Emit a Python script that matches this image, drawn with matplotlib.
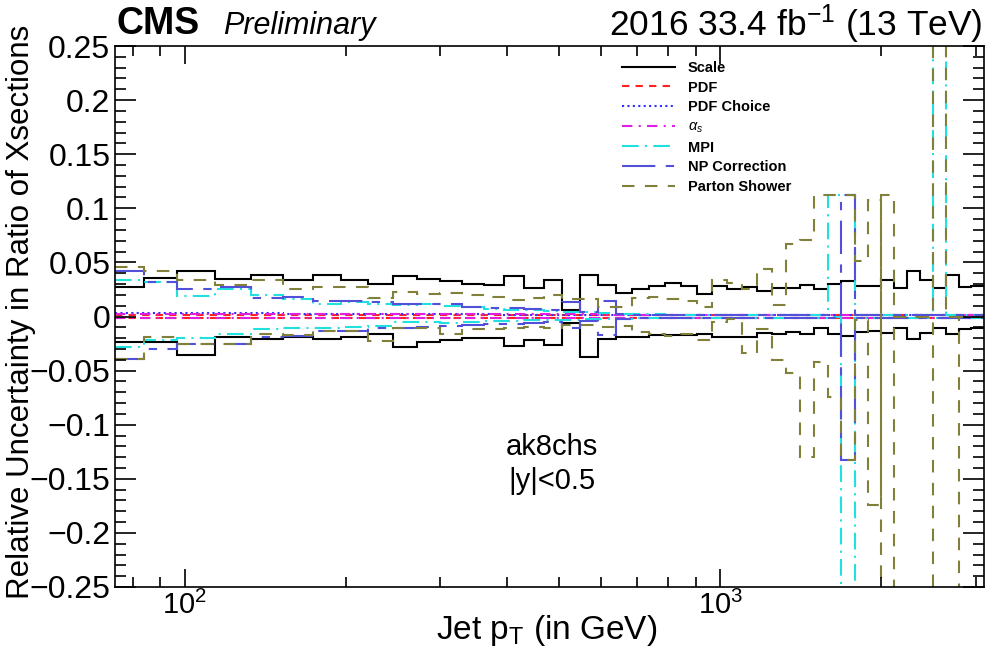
import matplotlib
matplotlib.use("Agg")
import matplotlib.pyplot as plt
from matplotlib.lines import Line2D
from matplotlib.ticker import FixedLocator, FixedFormatter, NullFormatter, MultipleLocator

plt.rcParams['font.family'] = ['Liberation Sans', 'DejaVu Sans']
plt.rcParams['mathtext.fontset'] = 'custom'
plt.rcParams['mathtext.rm'] = 'Liberation Sans'
plt.rcParams['mathtext.it'] = 'Liberation Sans:italic'
plt.rcParams['mathtext.bf'] = 'Liberation Sans:bold'

# ---------------- data ----------------
pt_edges = [74, 84, 97, 114, 133, 153, 174, 196, 220, 245, 272, 300, 330, 362, 395,
            430, 468, 507, 548, 592, 638, 686, 737, 790, 846, 905, 967, 1032, 1101,
            1172, 1248, 1327, 1410, 1497, 1588, 1684, 1784, 1890, 2000, 2116, 2238,
            2366, 2500, 2640, 2787, 2941, 3103]

scale_up = [0.027, 0.036, 0.042, 0.035, 0.038, 0.034, 0.038, 0.034, 0.030, 0.037,
            0.035, 0.033, 0.030, 0.029, 0.037, 0.026, 0.034, 0.006, 0.038, 0.029,
            0.022, 0.025, 0.028, 0.031, 0.028, 0.021, 0.028, 0.025, 0.027, 0.024,
            0.026, 0.026, 0.029, 0.025, 0.030, 0.033, 0.028, 0.028, 0.034, 0.026,
            0.042, 0.034, 0.026, 0.038, 0.027, 0.028]
scale_dn = [-0.024, -0.024, -0.036, -0.019, -0.021, -0.019, -0.021, -0.019, -0.016, -0.028,
            -0.024, -0.022, -0.020, -0.020, -0.027, -0.022, -0.026, -0.006, -0.037, -0.021,
            -0.019, -0.019, -0.017, -0.017, -0.017, -0.016, -0.019, -0.019, -0.019, -0.015,
            -0.016, -0.014, -0.016, -0.011, -0.016, -0.018, -0.014, -0.013, -0.015, -0.011,
            -0.021, -0.015, -0.011, -0.016, -0.012, -0.011]

pdf_up = [0.001, 0.001, 0.001, 0.001, 0.001, 0.001, 0.001, 0.001, 0.001, 0.001,
          0.001, 0.001, 0.001, 0.001, 0.001, 0.001, 0.001, 0.001, 0.001, 0.001,
          0.001, 0.001, 0.001, 0.001, 0.001, 0.001, 0.001, 0.001, 0.001, 0.001,
          0.001, 0.001, 0.001, 0.001, 0.001, 0.001, 0.001, 0.001, 0.001, 0.001,
          0.001, 0.001, 0.001, 0.001, 0.001, 0.001]
pdf_dn = [-0.001, -0.001, -0.001, -0.001, -0.001, -0.001, -0.001, -0.001, -0.001, -0.001,
          -0.001, -0.001, -0.001, -0.001, -0.001, -0.001, -0.001, -0.001, -0.001, -0.001,
          -0.001, -0.001, -0.001, -0.001, -0.001, -0.001, -0.001, -0.001, -0.001, -0.001,
          -0.001, -0.001, -0.001, -0.001, -0.001, -0.001, -0.001, -0.001, -0.001, -0.001,
          -0.001, -0.001, -0.001, -0.001, -0.001, -0.001]

pdfchoice = [0.003, 0.003, 0.003, 0.003, 0.003, 0.002, 0.002, 0.002, 0.002, 0.002,
             0.002, 0.002, 0.002, 0.002, 0.001, 0.001, 0.001, 0.001, 0.001, 0.001,
             0.001, 0.001, 0.001, 0.001, 0.001, 0.001, 0.001, 0.001, 0.001, 0.001,
             0.001, 0.001, 0.001, 0.001, 0.001, 0.001, 0.001, 0.001, 0.001, 0.001,
             0.001, 0.001, 0.001, 0.001, 0.001, 0.001]

alphas_up = [0.002, 0.002, 0.002, 0.002, 0.002, 0.002, 0.002, 0.002, 0.002, 0.002,
             0.002, 0.002, 0.002, 0.002, 0.002, 0.002, 0.002, 0.002, 0.002, 0.001,
             0.001, 0.001, 0.001, 0.001, 0.001, 0.001, 0.001, 0.001, 0.001, 0.001,
             0.001, 0.001, 0.001, 0.001, 0.001, 0.001, 0.001, 0.001, 0.001, 0.001,
             0.001, 0.001, 0.001, 0.001, 0.001, 0.001]
alphas_dn = [-0.001, -0.001, -0.001, -0.001, -0.001, -0.001, -0.001, -0.001, -0.001, -0.001,
             -0.001, -0.001, -0.001, -0.001, -0.001, -0.001, -0.001, -0.001, -0.001, -0.001,
             -0.001, -0.001, -0.001, -0.001, -0.001, -0.001, -0.001, -0.001, -0.001, -0.001,
             -0.001, -0.001, -0.001, -0.001, -0.001, -0.001, -0.001, -0.001, -0.001, -0.001,
             -0.001, -0.001, -0.001, -0.001, -0.001, -0.001]

mpi_up = [0.034, 0.032, 0.019, 0.025, 0.020, 0.016, 0.012, 0.013, 0.012, 0.011,
          0.012, 0.010, 0.009, 0.007, 0.006, 0.006, 0.005, 0.004, 0.004, 0.003,
          0.002, 0.002, 0.002, 0.001, 0.001, 0.001, 0.001, 0.001, 0.001, 0.001,
          0.001, 0.001, 0.001, 0.001, 0.112, 0.112, 0.001, 0.001, 0.001, 0.001,
          0.001, 0.001, 0.300, 0.001, 0.001, 0.001]
mpi_dn = [-0.028, -0.022, -0.020, -0.016, -0.012, -0.011, -0.011, -0.010, -0.009, -0.005,
          -0.005, -0.006, -0.005, -0.004, -0.004, -0.003, -0.003, -0.003, -0.002, -0.002,
          -0.002, -0.001, -0.001, -0.001, -0.001, -0.001, -0.001, -0.001, -0.001, -0.001,
          -0.001, -0.001, -0.001, -0.001, 0.000, -0.300, -0.001, -0.001, -0.001, -0.001,
          -0.001, -0.001, -0.001, -0.001, -0.001, -0.001]

np_up = [0.042, 0.032, 0.025, 0.027, 0.017, 0.018, 0.014, 0.014, 0.013, 0.012,
         0.012, 0.012, 0.009, 0.008, 0.008, 0.007, 0.006, 0.013, 0.004, 0.014,
         0.002, 0.001, 0.001, 0.001, 0.001, 0.001, 0.001, 0.001, 0.001, 0.001,
         0.001, 0.001, 0.001, 0.001, 0.001, 0.112, 0.001, 0.001, 0.001, 0.001,
         0.001, 0.001, 0.001, 0.001, 0.001, 0.001]
np_dn = [-0.039, -0.030, -0.025, -0.025, -0.019, -0.018, -0.013, -0.013, -0.011, -0.011,
         -0.010, -0.009, -0.008, -0.007, -0.007, -0.006, -0.005, -0.011, -0.004, -0.017,
         -0.002, -0.001, -0.001, -0.001, -0.001, -0.001, -0.001, -0.001, -0.001, -0.001,
         -0.001, -0.001, -0.001, -0.001, -0.001, -0.133, -0.001, -0.001, -0.001, -0.001,
         -0.001, -0.001, -0.001, -0.001, -0.001, -0.001]

ps_a = [0.046, 0.042, 0.034, 0.029, 0.034, 0.025, 0.027, 0.027, 0.017, 0.023,
        0.021, 0.022, 0.020, 0.018, 0.015, 0.017, 0.020, 0.016, 0.016, 0.009,
        0.009, 0.017, 0.018, 0.016, 0.014, 0.009, 0.034, 0.031, 0.025, 0.044,
        0.011, 0.067, 0.071, 0.112, 0.112, 0.112, 0.051, 0.108, -0.300, 0.000,
        0.000, 0.000, 0.300, 0.000, 0.000, 0.000]
ps_b = [-0.039, -0.019, -0.025, -0.025, -0.016, -0.017, -0.013, -0.013, -0.023, -0.011,
        -0.011, -0.016, -0.012, -0.012, -0.011, -0.010, -0.011, -0.008, -0.008, -0.010,
        -0.009, -0.014, -0.016, -0.018, -0.016, -0.022, -0.005, -0.002, -0.034, -0.012,
        -0.040, -0.052, -0.130, -0.042, -0.074, -0.133, -0.003, -0.174, 0.112, 0.000,
        0.000, 0.000, -0.300, -0.300, 0.000, 0.000]

labels = ["Scale", "PDF", "PDF Choice", r"$\alpha_{s}$", "MPI", "NP Correction", "Parton Shower"]
y_ticks = [-0.25, -0.2, -0.15, -0.1, -0.05, 0, 0.05, 0.1, 0.15, 0.2, 0.25]
y_ticklabels = ["\u22120.25", "\u22120.2", "\u22120.15", "\u22120.1", "\u22120.05", "0",
                "0.05", "0.1", "0.15", "0.2", "0.25"]

# ---------------- styles ----------------
styles = [
    dict(color='black', ls='-'),
    dict(color='#ff2020', ls=(0, (3.5, 3))),
    dict(color='#3030ff', ls=(0, (1, 1.6))),
    dict(color='#e020e0', ls=(0, (5, 3, 1, 3))),
    dict(color='#20e0e0', ls=(0, (8, 3, 1, 3))),
    dict(color='#5050d8', ls=(0, (16, 5, 4, 5))),
    dict(color='#80803a', ls=(0, (6, 5))),
]
series = [(scale_up, scale_dn), (pdf_up, pdf_dn), (pdfchoice,), (alphas_up, alphas_dn),
          (mpi_up, mpi_dn), (np_up, np_dn), (ps_a, ps_b)]

fig = plt.figure(figsize=(9.92, 6.56), dpi=100)
ax = fig.add_axes([114.5 / 992, 1 - 587 / 656, (983.5 - 114.5) / 992, (587 - 46) / 656])

lw = 1.5
for st, arrs in zip(styles, series):
    for vals in arrs:
        ax.stairs(vals, pt_edges, baseline=None, color=st['color'], linestyle=st['ls'],
                  linewidth=lw)

ax.set_xscale('log')
ax.set_xlim(74, 3103)
ax.set_ylim(-0.25, 0.25)

ax.yaxis.set_major_locator(FixedLocator(y_ticks))
ax.yaxis.set_major_formatter(FixedFormatter(y_ticklabels))
ax.yaxis.set_minor_locator(MultipleLocator(0.01))
ax.xaxis.set_minor_formatter(NullFormatter())

ax.tick_params(which='both', direction='in', top=True, right=True, width=1.2)
ax.tick_params(axis='y', which='major', length=15, labelsize=23, pad=3)
ax.tick_params(axis='y', which='minor', length=8)
ax.tick_params(axis='x', which='major', length=13, labelsize=21, pad=3)
ax.tick_params(axis='x', which='minor', length=7)
for sp in ax.spines.values():
    sp.set_linewidth(1.2)

fig.text(21 / 992, 1 - 312 / 656, "Relative Uncertainty in Ratio of Xsections",
         rotation=90, ha='center', va='center', fontsize=22.5)
fig.text(547 / 992, 1 - 630 / 656, r"Jet p$_{\mathrm{T}}$ (in GeV)", ha='center',
         va='center', fontsize=24)

fig.text(117 / 992, 1 - 34 / 656, "CMS", fontsize=27, fontweight='bold', ha='left',
         va='baseline')
fig.text(223 / 992, 1 - 34 / 656, "Preliminary", fontsize=22, style='italic', ha='left',
         va='baseline')
fig.text(983 / 992, 1 - 36 / 656, r"2016 33.4 fb$^{-1}$ (13 TeV)", fontsize=25.5,
         ha='right', va='baseline')

ax.text(552 / 992, 1 - 447 / 656, "ak8chs", transform=fig.transFigure, ha='center',
        va='center', fontsize=21)
ax.text(552 / 992, 1 - 481 / 656, "|y|<0.5", transform=fig.transFigure, ha='center',
        va='center', fontsize=21)

handles = [Line2D([], [], color=st['color'], linestyle=st['ls'], linewidth=lw)
           for st in styles]
leg = fig.legend(handles, labels, loc='upper left',
                 bbox_to_anchor=(622 / 992, 1 - 61 / 656), frameon=False,
                 prop=dict(size=10.5, weight='bold'), handlelength=3.6,
                 handletextpad=0.9, labelspacing=0.38, borderpad=0, borderaxespad=0)

fig.savefig("out.png", dpi=100)
